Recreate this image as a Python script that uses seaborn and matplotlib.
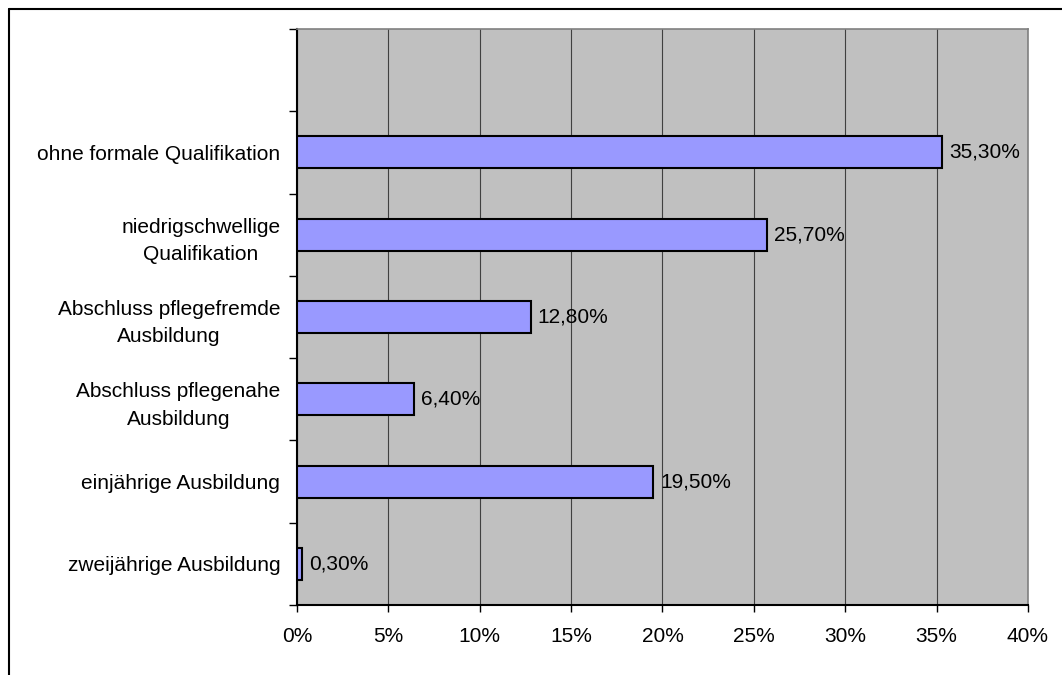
import matplotlib
matplotlib.use("Agg")
import matplotlib.pyplot as plt
import seaborn as sns
import pandas as pd
import numpy as np
from matplotlib.lines import Line2D
from matplotlib.ticker import FixedLocator, FuncFormatter

categories = [
    "ohne formale Qualifikation",
    "niedrigschwellige\nQualifikation",
    "Abschluss pflegefremde\nAusbildung",
    "Abschluss pflegenahe\nAusbildung",
    "einjährige Ausbildung",
    "zweijährige Ausbildung",
]
values = [35.3, 25.7, 12.8, 6.4, 19.5, 0.3]
value_labels = ["35,30%", "25,70%", "12,80%", "6,40%", "19,50%", "0,30%"]
x_ticks = [0, 5, 10, 15, 20, 25, 30, 35, 40]

sns.set_theme(style="white")
plt.rcParams["font.family"] = ["Liberation Sans", "DejaVu Sans"]

FS = 15

df = pd.DataFrame({"cat": categories, "val": values})
order = [""] + categories

fig = plt.figure(figsize=(10.62, 6.75), dpi=100)
ax = fig.add_axes([297 / 1062, 70 / 675, 731 / 1062, 576 / 675])
ax.set_facecolor("#c0c0c0")

sns.barplot(data=df, y="cat", x="val", order=order, orient="h", ax=ax,
            color="#9999ff", saturation=1, width=0.39,
            edgecolor="black", linewidth=1.5, zorder=3)

ax.set_xlim(0, 40)
ax.set_ylim(6.5, -0.5)
ax.set_xlabel("")
ax.set_ylabel("")

ax.xaxis.set_major_locator(FixedLocator(x_ticks))
ax.xaxis.set_major_formatter(FuncFormatter(lambda v, p: f"{int(v)}%"))
ax.grid(axis="x", color="#404040", linewidth=0.8, zorder=1)
ax.grid(axis="y", visible=False)
ax.set_axisbelow(True)

ax.yaxis.set_minor_locator(FixedLocator(np.arange(-0.5, 7.0, 1.0)))
ax.tick_params(axis="y", which="major", length=0, pad=12, labelsize=FS, colors="black")
ax.tick_params(axis="y", which="minor", left=True, length=6, width=1, color="black")
ax.tick_params(axis="x", which="major", bottom=True, length=5, width=1, color="black",
               pad=11, labelsize=FS, labelcolor="black")
for lbl in ax.get_yticklabels():
    lbl.set_horizontalalignment("right")
    lbl.set_multialignment("center")
    lbl.set_linespacing(1.55)

for s in ["left", "bottom"]:
    ax.spines[s].set_color("black")
    ax.spines[s].set_linewidth(1.5)
for s in ["top", "right"]:
    ax.spines[s].set_color("#808080")
    ax.spines[s].set_linewidth(1.2)

for i, (v, t) in enumerate(zip(values, value_labels)):
    ax.annotate(t, xy=(v, i + 1), xytext=(5, 0), textcoords="offset points",
                ha="left", va="center", fontsize=FS, color="black", zorder=4)

# outer chart frame (cut off at right and bottom)
fx = 9 / 1062
fy = 1 - 9 / 675
fig.add_artist(Line2D([fx, 1.0], [fy, fy], transform=fig.transFigure, color="black", linewidth=1.5))
fig.add_artist(Line2D([fx, fx], [0.0, fy], transform=fig.transFigure, color="black", linewidth=1.5))

fig.savefig("out.png", dpi=100)
